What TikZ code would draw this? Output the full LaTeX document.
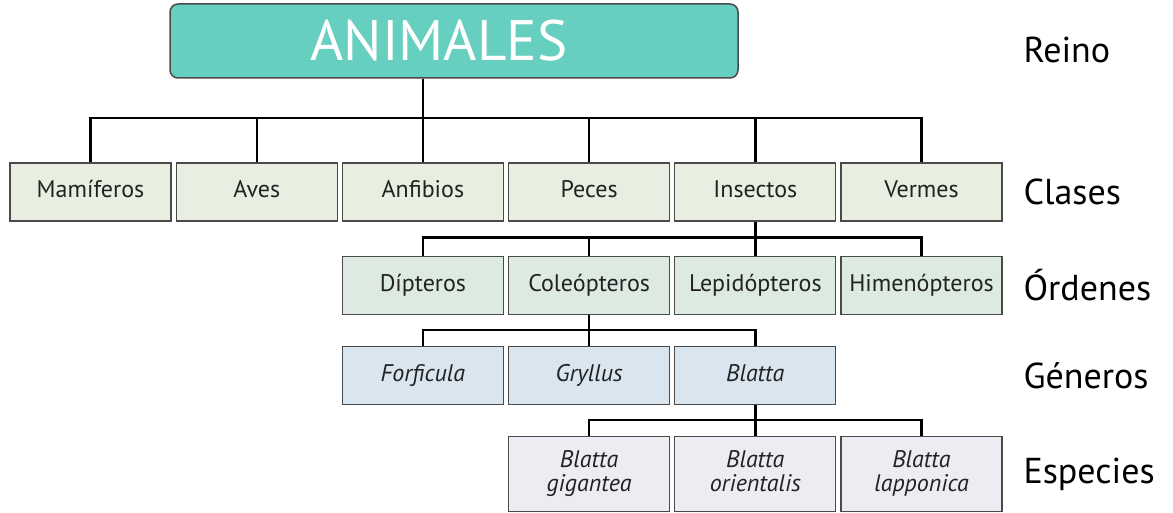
\documentclass[tikz,border=0pt]{standalone}
\usepackage{fontspec}
\setmainfont{PT Sans}
\usepackage{tikz}
\usetikzlibrary{positioning}
\definecolor{reinoteal}{HTML}{66CFBF}
\definecolor{claselight}{HTML}{E8EFE0}
\definecolor{ordenlight}{HTML}{DCEAE2}
\definecolor{generolight}{HTML}{D9E6EF}
\definecolor{especielight}{HTML}{ECECF2}
\definecolor{boxline}{HTML}{4A4A4A}
\definecolor{boxtext}{HTML}{222222}

\begin{document}
\begin{tikzpicture}[x=1pt,y=-1pt,node distance=4pt,
  taxon/.style={draw=boxline,line width=1.2pt,minimum width=161pt,minimum height=58pt,
    inner sep=2pt,text=boxtext,font=\fontsize{24}{26}\selectfont,align=center},
  oneline/.style={taxon,text height=16pt,text depth=4pt},
  clase/.style={oneline,fill=claselight},
  orden/.style={oneline,fill=ordenlight},
  genero/.style={oneline,fill=generolight,font=\fontsize{24}{26}\selectfont\itshape},
  especie/.style={taxon,fill=especielight,minimum height=75pt,text depth=6pt,
    font=\fontsize{24}{24}\selectfont\itshape},
  rank/.style={anchor=west,font=\fontsize{36}{40}\selectfont},
  link/.style={line width=2.4pt,black}]
  \useasboundingbox (0,0) rectangle (1173,513);

  \node[draw=boxline,line width=1.5pt,rounded corners=8pt,fill=reinoteal,
    minimum width=568pt,minimum height=74pt,text=white,
    font=\fontsize{57}{60}\selectfont] (ani) at (454,41) {\hspace*{-30pt}ANIMALES};

  % Clases
  \node[clase] (mam) at (90.5,192) {Mamíferos};
  \node[clase,right=of mam] (ave) {Aves};
  \node[clase,right=of ave] (anf) {Anfibios};
  \node[clase,right=of anf] (pec) {Peces};
  \node[clase,right=of pec] (ins) {Insectos};
  \node[clase,right=of ins] (ver) {Vermes};

  % Ordenes
  \node[orden,below=34pt of anf] (dip) {Dípteros};
  \node[orden,right=of dip] (col) {Coleópteros};
  \node[orden,right=of col] (lep) {Lepidópteros};
  \node[orden,right=of lep] (him) {Himenópteros};

  % Generos
  \node[genero,below=31pt of dip] (forf) {Forficula};
  \node[genero,right=of forf] (gry) {Gryllus};
  \node[genero,right=of gry] (bla) {Blatta};

  % Especies
  \node[especie,below=31pt of gry] (gig) {Blatta\\gigantea};
  \node[especie,right=of gig] (ori) {Blatta\\orientalis};
  \node[especie,right=of ori] (lap) {Blatta\\lapponica};

  % rank labels
  \node[rank] (reino) at (1020,50) {Reino};
  \node[rank] (clases) at (reino.west |- ver) {Clases};
  \node[rank] (ordenes) at (reino.west |- him) {Órdenes};
  \node[rank] (generos) at (reino.west |- bla) {Géneros};
  \node[rank] (especies) at (reino.west |- lap) {Especies};

  % connectors
  \draw[link] (ani.south -| anf) -- ++(0,39) -| (mam.north);
  \draw[link] (ani.south -| anf) -- ++(0,39) -| (ave.north);
  \draw[link] (ani.south -| anf) -- (anf.north);
  \draw[link] (ani.south -| anf) -- ++(0,39) -| (pec.north);
  \draw[link] (ani.south -| anf) -- ++(0,39) -| (ins.north);
  \draw[link] (ani.south -| anf) -- ++(0,39) -| (ver.north);

  \draw[link] (ins.south) -- ++(0,16) -| (dip.north);
  \draw[link] (ins.south) -- ++(0,16) -| (col.north);
  \draw[link] (ins.south) -- (lep.north);
  \draw[link] (ins.south) -- ++(0,16) -| (him.north);

  \draw[link] (col.south) -- ++(0,15) -| (forf.north);
  \draw[link] (col.south) -- (gry.north);
  \draw[link] (col.south) -- ++(0,15) -| (bla.north);

  \draw[link] (bla.south) -- ++(0,15) -| (gig.north);
  \draw[link] (bla.south) -- (ori.north);
  \draw[link] (bla.south) -- ++(0,15) -| (lap.north);
\end{tikzpicture}
\end{document}
